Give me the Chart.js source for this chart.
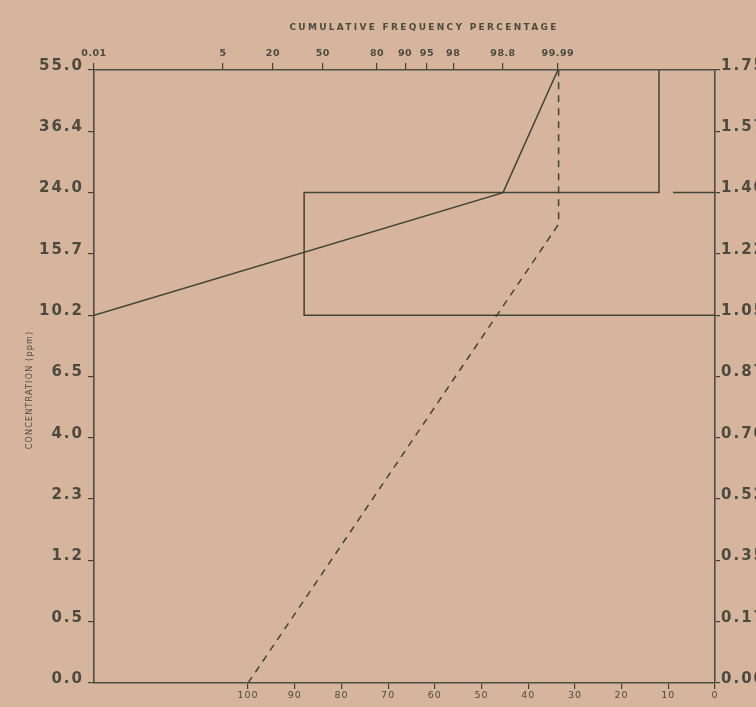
<!DOCTYPE html>
<html lang="en">
<head>
<meta charset="UTF-8">
<title>Cumulative Frequency Percentage vs Concentration</title>
<script src="https://cdn.jsdelivr.net/npm/chart.js"></script>
<style>
  html, body { margin: 0; padding: 0; background: #d7b59d; }
  canvas { display: block; }
</style>
</head>
<body>
<canvas id="chart" width="756" height="707"></canvas>
<script>
// left axis: concentration (ppm), bottom to top
const ppmLabels = ['0.0', '0.5', '1.2', '2.3', '4.0', '6.5', '10.2', '15.7', '24.0', '36.4', '55.0'];
// right axis values, same tick lines as the left axis
const rightTicks = [0, 0.175, 0.35, 0.525, 0.70, 0.875, 1.05, 1.225, 1.40, 1.575, 1.75];
const rightLabels = ['0.00', '0.175', '0.35', '0.525', '0.70', '0.875', '1.05', '1.225', '1.40', '1.575', '1.75'];
// top axis: cumulative frequency percentage on a probability (z) scale
const topLabels = ['0.01', '5', '20', '50', '80', '90', '95', '98', '98.8', '99.99'];
const topTickZ = [-3.72, -1.65, -0.85, -0.05, 0.82, 1.27, 1.62, 2.04, 2.84, 3.72];
// bottom axis: percent, 100 on the left to 0 on the right
const bottomTicks = [0, 10, 20, 30, 40, 50, 60, 70, 80, 90, 100];

// solid cumulative curve (top axis z, right axis value)
const cumZ = [-3.72, 2.84, 3.72];
const cumY = [1.05, 1.40, 1.75];
// dashed curve (bottom axis %, right axis value)
const dashX = [100, 33.5, 33.5];
const dashY = [0, 1.31, 1.75];
// boxes (bottom axis %, right axis value)
const boxX = [12, 12, 88, 88, 0];
const boxY = [1.75, 1.40, 1.40, 1.05, 1.05];
const stubX = [9, 0];
const stubY = [1.40, 1.40];

const ink = '#3e4436';
const textInk = '#4a4b40';
const pts = (xs, ys) => xs.map((x, i) => ({ x: x, y: ys[i] }));

// per-axis letter spacing for the tick labels
const spacing = { y: '2px', yRight: '2px', x: '1px', xTop: '0.5px' };

const lettering = {
    id: 'lettering',
    beforeDraw(chart) {
        Object.values(chart.scales).forEach(s => {
            if (s._spaced) return;
            const orig = s.drawLabels;
            s.drawLabels = function (area) {
                this.ctx.save();
                this.ctx.letterSpacing = spacing[this.id] || '0px';
                orig.call(this, area);
                this.ctx.restore();
            };
            s._spaced = true;
        });
    },
    afterDraw(chart) {
        const ctx = chart.ctx;
        ctx.save();
        ctx.fillStyle = textInk;
        ctx.textAlign = 'center';
        ctx.textBaseline = 'middle';
        ctx.font = 'bold 9px "DejaVu Sans"';
        ctx.letterSpacing = '2.3px';
        ctx.fillText('CUMULATIVE FREQUENCY PERCENTAGE', 424, 28);
        ctx.translate(30, 390);
        ctx.rotate(-Math.PI / 2);
        ctx.font = '8px "DejaVu Sans"';
        ctx.letterSpacing = '1.2px';
        ctx.fillText('CONCENTRATION (ppm)', 0, 0);
        ctx.restore();
    }
};

const lineSet = (data, axis, dash) => ({
    data: data,
    xAxisID: axis,
    yAxisID: 'y',
    showLine: true,
    borderColor: ink,
    borderWidth: 1.5,
    borderDash: dash || [],
    pointRadius: 0,
    fill: false
});

const axisTicks = { color: ink, lineWidth: 1.2, drawOnChartArea: false, drawTicks: true };
const axisBorder = { display: true, color: '#4a4f48', width: 1.6 };
const bigFont = { family: 'DejaVu Sans', size: 15, weight: 'bold' };
const smallFont = { family: 'DejaVu Sans', size: 9.5 };

new Chart(document.getElementById('chart'), {
    type: 'scatter',
    data: {
        datasets: [
            lineSet(pts(cumZ, cumY), 'xTop'),
            lineSet(pts(dashX, dashY), 'x', [7, 6]),
            lineSet(pts(boxX, boxY), 'x'),
            lineSet(pts(stubX, stubY), 'x')
        ]
    },
    options: {
        responsive: false,
        animation: false,
        layout: { padding: 0 },
        plugins: { legend: { display: false }, tooltip: { enabled: false } },
        scales: {
            x: {
                type: 'linear', position: 'bottom', reverse: true, min: 0, max: 133,
                afterBuildTicks: s => { s.ticks = bottomTicks.map(v => ({ value: v })); },
                afterFit: s => { s.height = 24; s.paddingLeft = 0; s.paddingRight = 0; },
                grid: { ...axisTicks, tickLength: 6 },
                border: axisBorder,
                ticks: { color: textInk, font: smallFont, padding: 1,
                         maxRotation: 0, autoSkip: false, callback: v => String(v) }
            },
            xTop: {
                type: 'linear', position: 'top', min: -3.72, max: 6.24,
                afterBuildTicks: s => { s.ticks = topTickZ.map(v => ({ value: v })); },
                afterFit: s => { s.height = 70; s.paddingLeft = 0; s.paddingRight = 0; },
                grid: { ...axisTicks, tickLength: 7 },
                border: axisBorder,
                ticks: { color: textInk, font: { ...smallFont, weight: 'bold' }, padding: 4,
                         maxRotation: 0, autoSkip: false, callback: (v, i) => topLabels[i] }
            },
            y: {
                type: 'linear', position: 'left', min: 0, max: 1.75,
                afterBuildTicks: s => { s.ticks = rightTicks.map(v => ({ value: v })); },
                afterFit: s => { s.width = 94; s.paddingTop = 0; s.paddingBottom = 0; },
                grid: { ...axisTicks, tickLength: 6 },
                border: axisBorder,
                ticks: { color: textInk, font: bigFont, padding: 4,
                         labelOffset: -4, autoSkip: false, callback: (v, i) => ppmLabels[i] }
            },
            yRight: {
                type: 'linear', position: 'right', min: 0, max: 1.75,
                afterBuildTicks: s => { s.ticks = rightTicks.map(v => ({ value: v })); },
                afterFit: s => { s.width = 41; s.paddingTop = 0; s.paddingBottom = 0; },
                grid: { ...axisTicks, tickLength: 5 },
                border: axisBorder,
                ticks: { color: textInk, font: bigFont, padding: 1,
                         labelOffset: -4, autoSkip: false, callback: (v, i) => rightLabels[i] }
            }
        }
    },
    plugins: [lettering]
});
</script>
</body>
</html>
